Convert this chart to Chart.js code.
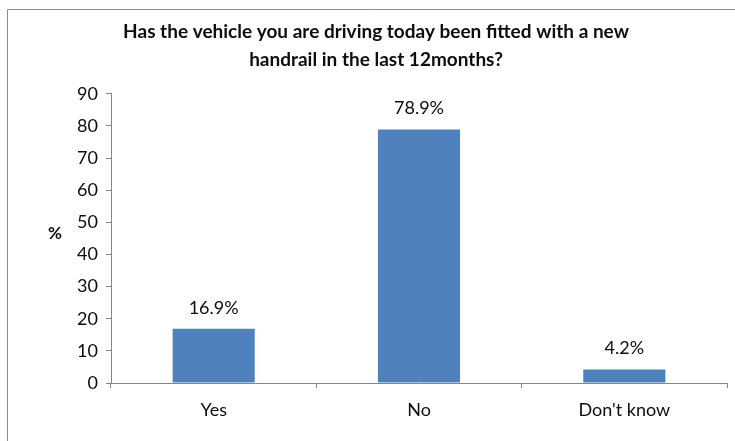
<!DOCTYPE html>
<html>
<head>
<meta charset="utf-8">
<script src="https://cdn.jsdelivr.net/npm/chart.js@4"></script>
<style>
  html, body { margin: 0; padding: 0; background: #fff; }
  #wrap { width: 735px; height: 441px; }
</style>
</head>
<body>
<div id="wrap"><canvas id="handrailChart" width="735" height="441"></canvas></div>
<script>
const categories = ['Yes', 'No', "Don't know"];
const percentages = [16.9, 78.9, 4.2];
const titleLines = ['Has the vehicle you are driving today been fitted with a new', 'handrail in the last 12months?'];
const yTicks = [0, 10, 20, 30, 40, 50, 60, 70, 80, 90];

const FONT = 'Lato, "Open Sans", sans-serif';
const AXIS_GREY = '#868686';

// outer frame (only top and left edges show in the window)
const framePlugin = {
    id: 'frame',
    beforeDraw(chart) {
        const ctx = chart.ctx;
        ctx.save();
        ctx.strokeStyle = '#8c8c8c';
        ctx.lineWidth = 1;
        ctx.beginPath();
        ctx.moveTo(7.5, 441);
        ctx.lineTo(7.5, 9.5);
        ctx.lineTo(735, 9.5);
        ctx.stroke();
        ctx.restore();
    }
};

// value labels above each bar plus the "%" axis caption
const labelsPlugin = {
    id: 'valueLabels',
    afterDatasetsDraw(chart) {
        const ctx = chart.ctx;
        const meta = chart.getDatasetMeta(0);
        ctx.save();
        ctx.fillStyle = '#0d0d0d';
        ctx.font = '18px ' + FONT;
        ctx.textAlign = 'center';
        ctx.textBaseline = 'middle';
        meta.data.forEach(function (bar, i) {
            ctx.fillText(percentages[i].toFixed(1) + '%', bar.x, bar.y - 21);
        });
        ctx.font = 'bold 17px ' + FONT;
        const area = chart.chartArea;
        ctx.fillText('%', 55, (area.top + area.bottom) / 2 - 5);
        ctx.restore();
    }
};

new Chart(document.getElementById('handrailChart'), {
    type: 'bar',
    data: {
        labels: categories,
        datasets: [{
            data: percentages,
            backgroundColor: '#4F81BD',
            borderWidth: 0,
            barPercentage: 0.4,
            categoryPercentage: 1.0
        }]
    },
    options: {
        responsive: false,
        animation: false,
        layout: { padding: { top: 9, right: 8, bottom: 0, left: 25 } },
        plugins: {
            legend: { display: false },
            tooltip: { enabled: false },
            title: {
                display: true,
                text: titleLines,
                color: '#0d0d0d',
                font: { family: FONT, size: 19, weight: 'bold', lineHeight: 1.47 },
                padding: { top: 9, bottom: 20 }
            }
        },
        scales: {
            x: {
                grid: {
                    display: true,
                    drawOnChartArea: false,
                    offset: true,
                    tickLength: 5,
                    color: AXIS_GREY
                },
                border: { color: AXIS_GREY },
                ticks: {
                    color: '#0d0d0d',
                    font: { family: FONT, size: 18 },
                    padding: 11
                },
                afterFit(scale) { scale.height = 58; }
            },
            y: {
                min: 0,
                max: 90,
                afterBuildTicks(scale) {
                    scale.ticks = yTicks.map(function (v) { return { value: v }; });
                },
                grid: {
                    display: true,
                    drawOnChartArea: false,
                    tickLength: 5,
                    color: AXIS_GREY
                },
                border: { color: AXIS_GREY },
                ticks: {
                    color: '#0d0d0d',
                    font: { family: FONT, size: 18 },
                    padding: 8
                },
                afterFit(scale) { scale.width = 86; }
            }
        }
    },
    plugins: [framePlugin, labelsPlugin]
});
</script>
</body>
</html>
